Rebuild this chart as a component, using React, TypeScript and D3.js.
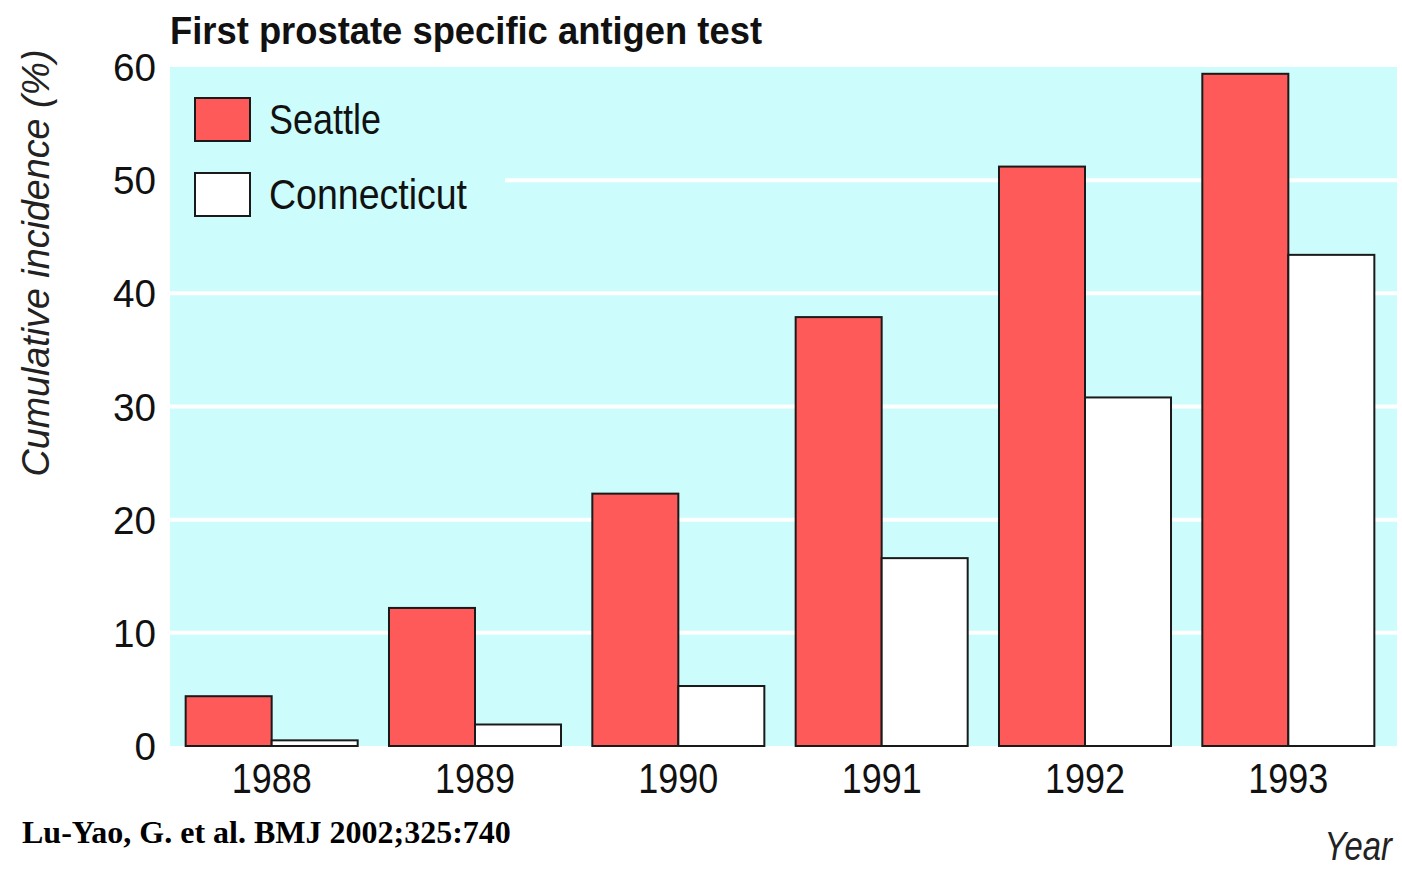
import React from "react";
import * as d3 from "d3";

const years = ["1988", "1989", "1990", "1991", "1992", "1993"];
const seriesNames = ["Seattle", "Connecticut"];
const seattle = [4.4, 12.2, 22.3, 37.9, 51.2, 59.4];
const connecticut = [0.5, 1.9, 5.3, 16.6, 30.8, 43.4];
const yTicks = [0, 10, 20, 30, 40, 50, 60];
const colors = ["#FF5A5A", "#FFFFFF"];
const legendTextLen = [112, 198];

const W = 1402, H = 875;
const plotL = 170, plotR = 1397, plotT = 67, plotB = 746;
const sans = "'Liberation Sans', Arial, Helvetica, sans-serif";

export default function App() {
  const x = d3.scaleBand<string>().domain(years).range([170, 1390]).paddingInner(0.154).paddingOuter(0.077);
  const xs = d3.scaleBand<string>().domain(seriesNames).range([0, x.bandwidth()]);
  const y = d3.scaleLinear().domain([0, 60]).range([plotB, plotT]);
  const data = [seattle, connecticut];

  return (
    <svg width={W} height={H} style={{ position: "absolute", left: 0, top: 0, background: "#fff" }}>
      <rect x={plotL} y={plotT} width={plotR - plotL} height={plotB - plotT} fill="#CCFCFC" />
      {yTicks.filter(t => t > 0 && t < 60).map(t => (
        <line key={t} x1={plotL} x2={plotR} y1={y(t)} y2={y(t)} stroke="#fff" strokeWidth={4} />
      ))}
      {/* legend background box */}
      <rect x={plotL} y={plotT} width={335} height={165} fill="#CCFCFC" />
      {years.map((yr, i) => (
        <g key={yr} transform={`translate(${x(yr)},0)`}>
          {seriesNames.map((s, j) => (
            <rect key={s} x={xs(s)} y={y(data[j][i])} width={xs.bandwidth()} height={y(0) - y(data[j][i])}
              fill={colors[j]} stroke="#1a1a1a" strokeWidth={2} />
          ))}
        </g>
      ))}
      {yTicks.map(t => (
        <text key={t} x={156} y={y(t)} dy="0.36em" textAnchor="end" fontFamily={sans} fontSize={39} fill="#111"
          textLength={String(t).length * 21.5} lengthAdjust="spacingAndGlyphs">{t}</text>
      ))}
      {years.map(yr => (
        <text key={yr} x={(x(yr) as number) + x.bandwidth() / 2} y={793} textAnchor="middle" fontFamily={sans} fontSize={43} fill="#111"
          textLength={80} lengthAdjust="spacingAndGlyphs">{yr}</text>
      ))}
      {seriesNames.map((s, j) => (
        <g key={s}>
          <rect x={195} y={98 + j * 75} width={55} height={43} fill={colors[j]} stroke="#1a1a1a" strokeWidth={2} />
          <text x={269} y={134 + j * 75} fontFamily={sans} fontSize={42} fill="#111"
            textLength={legendTextLen[j]} lengthAdjust="spacingAndGlyphs">{s}</text>
        </g>
      ))}
      <text x={170} y={44} fontFamily={sans} fontWeight="bold" fontSize={38} fill="#111"
        textLength={592} lengthAdjust="spacingAndGlyphs">First prostate specific antigen test</text>
      <text transform="translate(49,263) rotate(-90)" textAnchor="middle" fontFamily={sans} fontStyle="italic" fontSize={39} fill="#222"
        textLength={427} lengthAdjust="spacingAndGlyphs">Cumulative incidence (%)</text>
      <text transform="translate(1392,860) scale(0.82,1)" textAnchor="end" fontFamily={sans} fontStyle="italic" fontSize={40} fill="#222">Year</text>
      <text x={22} y={843} fontFamily="'Liberation Serif', 'Times New Roman', serif" fontWeight="bold" fontSize={32} fill="#000">Lu-Yao, G. et al. BMJ 2002;325:740</text>
    </svg>
  );
}
